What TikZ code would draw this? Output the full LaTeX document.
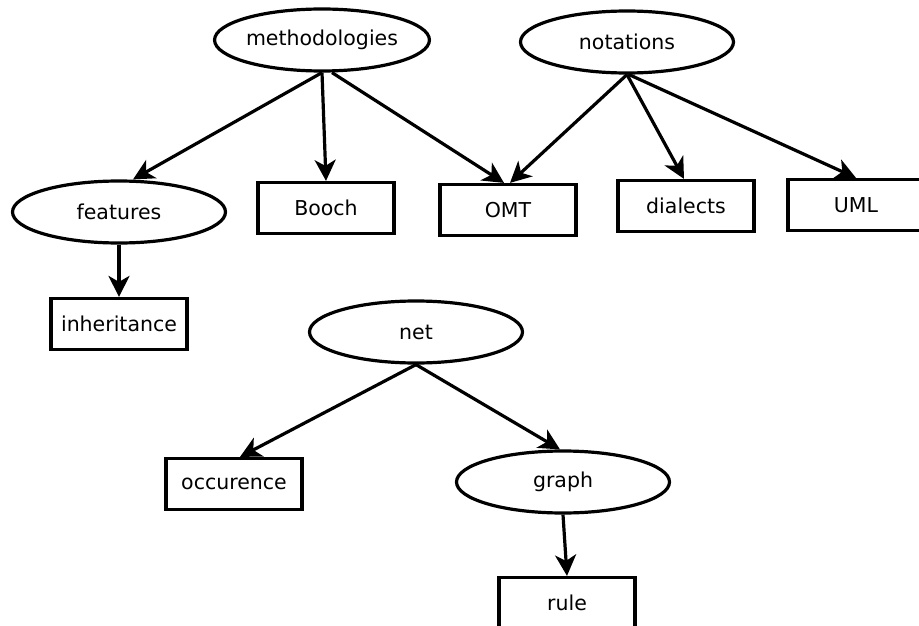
\documentclass[tikz,border=0pt]{standalone}
\usepackage{fontspec}
\setmainfont{DejaVu Sans}
\usetikzlibrary{shapes.geometric,arrows.meta}
\begin{document}
\begin{tikzpicture}[x=1pt,y=-1pt,
  ell/.style={ellipse,draw,line width=3.2pt,inner sep=0pt,minimum width=213pt,minimum height=62pt,font=\fontsize{20.5}{24}\selectfont},
  box/.style={rectangle,draw,line width=3.2pt,inner sep=0pt,minimum width=136pt,minimum height=51pt,font=\fontsize{20.5}{24}\selectfont},
  edge/.style={line width=3.2pt,-{Stealth[length=21pt,width=21pt,inset=6pt]}}]
\useasboundingbox (0,0) rectangle (919,626);
\node[ell] (meth) at (322,40) {methodologies};
\node[ell] (nota) at (627,42) {notations};
\node[ell] (feat) at (119,212) {features};
\node[box] (booch) at (326,208) {Booch};
\node[box] (omt) at (508,210) {OMT};
\node[box] (dial) at (686,206) {dialects};
\node[box] (uml) at (856,205) {UML};
\node[box] (inh) at (119,324) {inheritance};
\node[ell] (net) at (416,332) {net};
\node[box] (occ) at (234,484) {occurence};
\node[ell] (graph) at (563,482) {graph};
\node[box] (rule) at (567,603) {rule};
\draw[edge] (meth.south) -- ([xshift=14pt]feat.north);
\draw[edge] (meth.south) -- (booch.north);
\draw[edge] ([xshift=10pt]meth.south) -- ([xshift=-4pt]omt.north);
\draw[edge] (nota.south) -- ([xshift=2pt]omt.north);
\draw[edge] (nota.south) -- ([xshift=-2pt]dial.north);
\draw[edge] ([xshift=2pt]nota.south) -- (uml.north);
\draw[edge] (feat.south) -- (inh.north);
\draw[edge] (net.south) -- ([xshift=6pt]occ.north);
\draw[edge] (net.south) -- ([xshift=-3pt]graph.north);
\draw[edge] (graph.south) -- (rule.north);
\end{tikzpicture}
\end{document}
